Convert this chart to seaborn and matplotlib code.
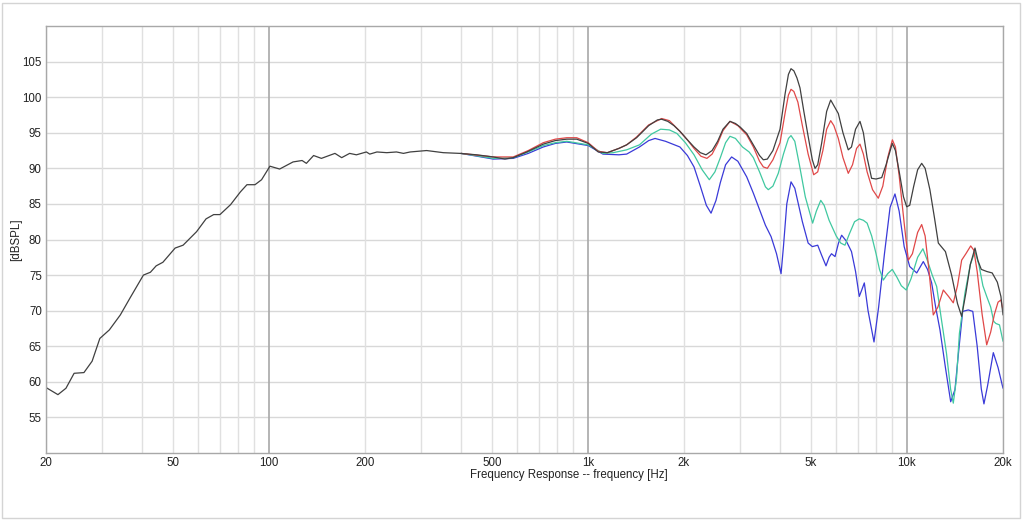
import numpy as np
import pandas as pd
import seaborn as sns
import matplotlib.pyplot as plt
from matplotlib.patches import Rectangle
from matplotlib.ticker import FixedLocator, NullFormatter

# Dados (frequência em Hz, nível em dBSPL)
freq_preto = [20, 21.8, 23.1, 24.5, 26.3, 27.9, 29.5, 31.6, 34.2, 36.7, 40.4, 42.5, 44.3, 46.5,
              50.8, 53.8, 59.3, 63.5, 67.1, 70.2, 75.8, 81.4, 85.3, 90.4, 94.8, 100.7, 108, 119,
              127, 131, 138, 146, 161, 169, 179, 188, 202, 207, 218, 234, 251, 264, 277, 312,
              352, 397, 448, 505, 549, 583, 643, 724, 790, 858, 922, 1002, 1077, 1150, 1250,
              1322, 1420, 1550, 1650, 1702, 1780, 1860, 1942, 2050, 2150, 2250, 2344, 2450,
              2550, 2650, 2787, 2900, 3000, 3145, 3300, 3450, 3546, 3650, 3800, 4000, 4150,
              4250, 4330, 4420, 4520, 4620, 4750, 4900, 5050, 5150, 5250, 5400, 5600, 5766,
              5900, 6092, 6300, 6546, 6700, 6900, 7124, 7300, 7500, 7746, 8000, 8333, 8600,
              8995, 9200, 9500, 9750, 9980, 10200, 10500, 10800, 11120, 11400, 11800, 12200,
              12540, 13200, 13800, 14400, 14840, 15300, 15800, 16340, 16700, 17100, 17800,
              18500, 19200, 19700, 20000]
db_preto = [59.2, 58.2, 59.1, 61.2, 61.3, 62.9, 66.1, 67.3, 69.4, 71.8, 75.0, 75.4, 76.3, 76.8,
            78.8, 79.2, 81.1, 82.9, 83.5, 83.5, 84.9, 86.7, 87.7, 87.7, 88.4, 90.3, 89.9, 90.9,
            91.1, 90.7, 91.8, 91.4, 92.1, 91.5, 92.1, 91.9, 92.3, 92.0, 92.3, 92.2, 92.3, 92.1,
            92.3, 92.5, 92.2, 92.1, 91.9, 91.6, 91.3, 91.5, 92.3, 93.4, 93.9, 94.1, 94.1, 93.5,
            92.3, 92.2, 92.8, 93.3, 94.3, 96.0, 96.8, 96.9, 96.6, 96.0, 95.2, 94.0, 93.0, 92.2,
            91.9, 92.5, 93.8, 95.5, 96.6, 96.3, 95.8, 94.9, 93.3, 91.8, 91.2, 91.3, 92.5, 95.5,
            100.5, 103.2, 104.0, 103.7, 102.7, 101.3, 98.0, 94.5, 91.2, 90.0, 90.5, 93.5, 98.0,
            99.6, 98.8, 97.7, 95.0, 92.6, 93.0, 95.5, 96.6, 95.0, 91.5, 88.6, 88.5, 88.7, 90.5,
            93.5, 92.5, 89.0, 86.0, 84.6, 84.8, 87.5, 89.8, 90.7, 90.0, 87.0, 83.0,
            79.5, 78.3, 75.0, 71.0, 69.2, 72.5, 76.5, 78.8, 77.0, 75.8, 75.5,
            75.3, 74.0, 72.0, 69.4]

freq_vermelho = [400, 505, 583, 650, 724, 790, 858, 922, 1002, 1077, 1150, 1250, 1322, 1420,
                 1550, 1702, 1800, 1942, 2050, 2150, 2260, 2360, 2450, 2550, 2650, 2787, 2950,
                 3145, 3300, 3450, 3546, 3650, 3800, 4000, 4150, 4250, 4330, 4420, 4550, 4700,
                 4900, 5100, 5250, 5450, 5600, 5766, 5900, 6092, 6300, 6546, 6750, 6950, 7124,
                 7300, 7500, 7800, 8130, 8400, 8700, 9000, 9200, 9450, 9800, 10100, 10400,
                 10800, 11120, 11400, 11700, 12090, 12500, 13000, 13500, 13970, 14400, 14840,
                 15300, 15840, 16200, 16600, 17200, 17780, 18300, 18800, 19300, 19700, 20000]
db_vermelho = [92.1, 91.6, 91.6, 92.5, 93.6, 94.1, 94.3, 94.3, 93.6, 92.4, 92.2, 92.8, 93.3, 94.4,
               96.1, 97.0, 96.7, 95.2, 94.0, 92.8, 91.7, 91.4, 92.0, 93.5, 95.3, 96.6, 96.0,
               94.7, 93.0, 91.0, 90.2, 90.0, 91.2, 93.6, 97.8, 100.3, 101.1, 100.8, 99.3, 96.0,
               92.0, 89.1, 89.5, 92.5, 95.5, 96.7, 96.0, 94.2, 91.5, 89.3, 90.5, 92.8, 93.4,
               92.0, 89.5, 87.0, 85.8, 87.5, 91.5, 94.0, 93.0, 89.0, 82.3, 77.1, 78.0,
               81.0, 82.1, 80.5, 76.0, 69.4, 70.5, 72.9, 72.0, 71.1, 73.5, 77.1,
               78.0, 79.1, 78.5, 75.5, 69.5, 65.2, 67.0, 69.5, 71.2, 71.5, 70.1]

freq_verde = [400, 505, 583, 650, 724, 790, 858, 1002, 1114, 1200, 1322, 1450, 1580, 1690,
              1800, 1900, 2020, 2150, 2280, 2401, 2500, 2600, 2700, 2787, 2900, 3050, 3200,
              3300, 3450, 3600, 3675, 3800, 3950, 4100, 4250, 4330, 4450, 4600, 4800, 5062,
              5200, 5367, 5500, 5700, 6000, 6200, 6392, 6600, 6850, 7087, 7300, 7500, 7750,
              8000, 8200, 8432, 8700, 8995, 9300, 9600, 9950, 10300, 10800, 11220, 11600,
              12000, 12390, 12800, 13300, 13700, 13970, 14300, 14600, 15200, 15800, 16340,
              16800, 17300, 17780, 18300, 18700, 19000, 19500, 20000]
db_verde = [92.1, 91.4, 91.5, 92.3, 93.2, 93.6, 93.8, 93.3, 92.1, 92.2, 92.6, 93.3, 94.8, 95.5,
            95.4, 94.9, 93.6, 91.9, 89.8, 88.4, 89.5, 91.5, 93.6, 94.5, 94.2, 93.0, 92.3,
            91.5, 89.5, 87.4, 87.0, 87.5, 89.3, 92.0, 94.2, 94.6, 93.8, 90.5, 86.0, 82.3,
            84.0, 85.5, 84.8, 82.7, 80.5, 79.5, 79.2, 80.8, 82.5, 82.9, 82.7, 82.3, 80.5,
            78.0, 75.8, 74.3, 75.2, 75.8, 74.7, 73.5, 72.9, 74.5, 77.5, 78.7, 77.0,
            75.0, 73.4, 69.0, 64.0, 59.0, 57.0, 60.5, 66.8, 72.5, 76.5, 78.3,
            76.5, 73.5, 72.0, 70.5, 68.5, 68.2, 68.0, 65.7]

freq_azul = [400, 505, 583, 650, 724, 790, 858, 1002, 1114, 1250, 1322, 1450, 1550, 1623,
             1750, 1942, 2050, 2150, 2250, 2350, 2431, 2520, 2600, 2700, 2820, 2950, 3145,
             3300, 3450, 3600, 3750, 3900, 4030, 4100, 4200, 4330, 4450, 4700, 4900, 5050,
             5250, 5400, 5574, 5700, 5800, 5950, 6100, 6241, 6450, 6700, 6900, 7087, 7200,
             7350, 7550, 7882, 8150, 8500, 8850, 9170, 9450, 9800, 10200, 10730, 11250,
             11600, 11950, 12300, 12690, 13200, 13710, 14140, 14500, 14950, 15570, 16080,
             16600, 17100, 17430, 17900, 18650, 19300, 20000]
db_azul = [92.1, 91.3, 91.4, 92.1, 93.0, 93.5, 93.7, 93.2, 92.0, 91.9, 92.0, 93.0, 93.9, 94.2,
           93.8, 93.0, 91.8, 90.2, 87.5, 84.8, 83.7, 85.5, 88.0, 90.5, 91.6, 91.0, 88.8,
           86.5, 84.2, 82.0, 80.4, 78.0, 75.2, 79.0, 85.0, 88.1, 87.2, 82.5, 79.5, 79.0,
           79.2, 77.8, 76.3, 77.5, 78.0, 77.6, 79.5, 80.6, 79.8, 78.3, 75.5, 72.0, 72.8,
           73.9, 70.0, 65.6, 70.5, 78.0, 84.5, 86.4, 84.0, 79.0, 76.2, 75.3, 76.9,
           75.8, 73.9, 70.5, 67.3, 62.0, 57.2, 58.9, 64.0, 69.9, 70.1, 69.9,
           65.0, 59.0, 56.9, 59.5, 64.1, 62.0, 59.1]

rotulos_x = ['20', '50', '100', '200', '500', '1k', '2k', '5k', '10k', '20k']
ticks_x = [20, 50, 100, 200, 500, 1000, 2000, 5000, 10000, 20000]
ticks_y = [55, 60, 65, 70, 75, 80, 85, 90, 95, 100, 105]

sns.set_style('white')
plt.rcParams['font.family'] = ['Liberation Sans', 'DejaVu Sans']

fig = plt.figure(figsize=(10.24, 5.21), dpi=100)
ax = fig.add_axes([46 / 1024, 68 / 521, 957 / 1024, 427 / 521])

# Grade
for y in ticks_y:
    ax.axhline(y, color='#d8d8d8', linewidth=1, zorder=0)
menores = [m * d for d in [10, 100, 1000] for m in range(2, 10)] + [20000]
for x in menores:
    ax.axvline(x, color='#e0e0e0', linewidth=1, zorder=0)
for x in [100, 1000, 10000]:
    ax.axvline(x, color='#a8a8a8', linewidth=1.2, zorder=0)

# Curvas
series = [
    (freq_azul, db_azul, '#3a3ad8'),
    (freq_verde, db_verde, '#40c8a0'),
    (freq_vermelho, db_vermelho, '#e04848'),
    (freq_preto, db_preto, '#404040'),
]
for fx, dy, cor in series:
    df = pd.DataFrame({'f': fx, 'db': dy})
    sns.lineplot(data=df, x='f', y='db', ax=ax, color=cor, linewidth=0.9,
                 estimator=None, sort=False)

ax.set_xscale('log')
ax.set_xlim(20, 20000)
ax.set_ylim(50, 110)
ax.xaxis.set_major_locator(FixedLocator(ticks_x))
ax.xaxis.set_minor_formatter(NullFormatter())
ax.set_xticklabels(rotulos_x)
ax.set_yticks(ticks_y)
ax.tick_params(axis='both', which='both', length=0, labelsize=8.3, colors='#222222', pad=3)
ax.tick_params(axis='x', which='minor', length=0)

for s in ax.spines.values():
    s.set_color('#a8a8a8')
    s.set_linewidth(1)

ax.set_xlabel('Frequency Response -- frequency [Hz]', fontsize=8.3, color='#222222')
ax.set_ylabel('[dBSPL]', fontsize=8.3, color='#222222')
ax.xaxis.set_label_coords(0.546, -0.037)
ax.yaxis.set_label_coords(-0.025, 0.5)

# Moldura externa
fig.patches.append(Rectangle((2 / 1024, 3 / 521), 1018 / 1024, 515 / 521, transform=fig.transFigure,
                             fill=False, edgecolor='#d4d4d4', linewidth=1))

fig.savefig('out.png', dpi=100)
